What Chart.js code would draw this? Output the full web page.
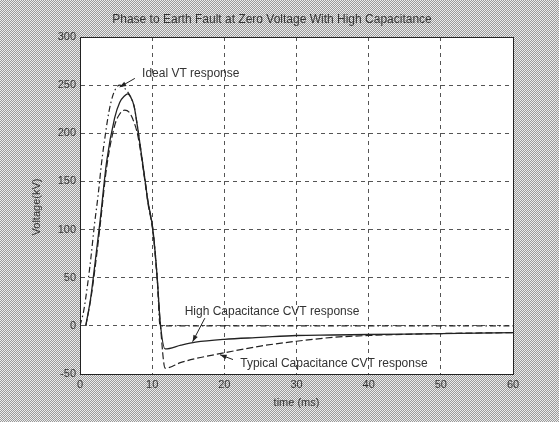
<!DOCTYPE html>
<html lang="en">
<head>
  <meta charset="UTF-8">
  <title>Phase to Earth Fault at Zero Voltage With High Capacitance</title>
  <script src="https://cdn.jsdelivr.net/npm/chart.js"></script>
  <style>
    html, body {
      margin: 0; padding: 0;
      width: 559px; height: 422px;
      overflow: hidden;
      background-color: #c4c4c4;
      background-image: repeating-conic-gradient(#9a9a9a 0 25%, #ececec 0 50%);
      background-size: 2px 2px;
    }
    canvas { display: block; }
  </style>
</head>
<body>
  <canvas id="chart" width="559" height="422"></canvas>

  <script>
    // time (ms) / voltage (kV)
    const idealT = [0, 0.5, 1, 1.5, 2, 2.5, 3, 3.5, 4, 4.5, 5, 5.5, 6, 6.5, 7, 7.5, 8, 9, 9.4, 10.1, 10.7, 11.1, 12, 20, 30, 40, 50, 60];
    const idealV = [0, 15, 40, 70, 105, 135, 170, 198, 222, 238, 247, 250, 248, 244, 238, 228, 205, 152, 130, 100, 50, 0, 0, 0, 0, 0, 0, 0];

    const highT = [0.8, 1.5, 2, 2.8, 3.7, 4.8, 5.5, 6.2, 6.6, 7, 7.5, 8, 9, 9.4, 10.1, 10.7, 11.1, 11.8, 14, 16, 20, 25, 30, 35, 40, 50, 60];
    const highV = [0, 30, 60, 110, 171, 216, 232, 239, 241, 238, 228, 205, 152, 130, 100, 50, 5, -24, -20, -17, -14, -12, -10, -9.5, -9, -8, -7];

    const typT = [0.8, 1.5, 2, 2.8, 3.7, 4.8, 5.5, 6.2, 6.8, 7.3, 8, 9, 9.4, 10.1, 10.7, 11.1, 11.8, 14, 16, 20, 25, 30, 35, 40, 50, 60];
    const typV = [0, 28, 55, 105, 165, 208, 220, 224, 222, 215, 198, 150, 128, 98, 48, 5, -44, -38, -34, -28, -21, -16, -12, -10, -8, -7];

    const xTicks = [0, 10, 20, 30, 40, 50, 60];
    const yTicks = [-50, 0, 50, 100, 150, 200, 250, 300];

    // annotation labels and arrows, in data units
    const labelText = ['Ideal VT response', 'High Capacitance CVT response', 'Typical Capacitance CVT response'];
    const labelPos = [[8.6, 262], [14.5, 14.5], [22.2, -39]];
    const arrowFrom = [[7.6, 257], [17.3, 8], [21.2, -35]];
    const arrowTo = [[5.5, 248], [15.6, -16.5], [19.4, -30]];

    const pts = (t, v) => t.map((x, i) => ({ x: x, y: v[i] }));
    const ink = '#222';

    const frame = {
      id: 'frame',
      beforeDraw(chart) {
        const a = chart.chartArea, c = chart.ctx;
        c.save();
        c.fillStyle = '#fff';
        c.fillRect(a.left, a.top, a.right - a.left, a.bottom - a.top);
        c.restore();
      },
      afterDraw(chart) {
        const a = chart.chartArea, c = chart.ctx;
        const xs = chart.scales.x, ys = chart.scales.y;
        c.save();
        c.strokeStyle = ink;
        c.lineWidth = 1;
        c.strokeRect(a.left + 0.5, a.top + 0.5, a.right - a.left, a.bottom - a.top);

        c.fillStyle = '#333';
        c.textAlign = 'center';
        c.textBaseline = 'middle';
        c.font = '12px "Liberation Sans", Arial, sans-serif';
        c.fillText('Phase to Earth Fault at Zero Voltage With High Capacitance', 272, 20);
        c.font = '11px "Liberation Sans", Arial, sans-serif';
        c.fillText('time (ms)', (a.left + a.right) / 2, 403);
        c.save();
        c.translate(37, 207);
        c.rotate(-Math.PI / 2);
        c.fillText('Voltage(kV)', 0, 0);
        c.restore();

        c.font = '12px "Liberation Sans", Arial, sans-serif';
        c.textAlign = 'left';
        labelText.forEach((txt, i) => {
          c.fillStyle = '#333';
          c.fillText(txt, xs.getPixelForValue(labelPos[i][0]), ys.getPixelForValue(labelPos[i][1]));
          const x1 = xs.getPixelForValue(arrowFrom[i][0]), y1 = ys.getPixelForValue(arrowFrom[i][1]);
          const x2 = xs.getPixelForValue(arrowTo[i][0]), y2 = ys.getPixelForValue(arrowTo[i][1]);
          c.strokeStyle = ink;
          c.beginPath(); c.moveTo(x1, y1); c.lineTo(x2, y2); c.stroke();
          const ang = Math.atan2(y2 - y1, x2 - x1), L = 7, W = 0.35;
          c.fillStyle = ink;
          c.beginPath();
          c.moveTo(x2, y2);
          c.lineTo(x2 - L * Math.cos(ang - W), y2 - L * Math.sin(ang - W));
          c.lineTo(x2 - L * Math.cos(ang + W), y2 - L * Math.sin(ang + W));
          c.closePath(); c.fill();
        });
        c.restore();
      }
    };

    new Chart(document.getElementById('chart'), {
      type: 'line',
      data: {
        datasets: [
          { label: 'Ideal VT response', data: pts(idealT, idealV), borderColor: ink, borderWidth: 1.2, borderDash: [6, 3, 1.5, 3] },
          { label: 'High Capacitance CVT response', data: pts(highT, highV), borderColor: ink, borderWidth: 1.3 },
          { label: 'Typical Capacitance CVT response', data: pts(typT, typV), borderColor: ink, borderWidth: 1.2, borderDash: [7, 3] }
        ]
      },
      options: {
        responsive: false,
        animation: false,
        layout: { padding: { left: 0, right: 46, top: 37, bottom: 0 } },
        elements: { point: { radius: 0 }, line: { cubicInterpolationMode: 'monotone', fill: false } },
        plugins: { legend: { display: false }, title: { display: false }, tooltip: { enabled: false } },
        scales: {
          x: {
            type: 'linear', min: 0, max: 60,
            afterBuildTicks: s => { s.ticks = xTicks.map(v => ({ value: v })); },
            afterFit: s => { s.height = 48; },
            grid: { color: '#555', lineWidth: 1, drawTicks: false },
            border: { color: ink, dash: [4, 4] },
            ticks: { color: '#333', padding: 4, autoSkip: false, maxRotation: 0, font: { size: 11, family: '"Liberation Sans", Arial, sans-serif' } }
          },
          y: {
            min: -50, max: 300,
            afterBuildTicks: s => { s.ticks = yTicks.map(v => ({ value: v })); },
            afterFit: s => { s.width = 80; },
            grid: { color: '#555', lineWidth: 1, drawTicks: false },
            border: { color: ink, dash: [4, 4] },
            ticks: { color: '#333', padding: 4, autoSkip: false, font: { size: 11, family: '"Liberation Sans", Arial, sans-serif' } }
          }
        }
      },
      plugins: [frame]
    });
  </script>
</body>
</html>
